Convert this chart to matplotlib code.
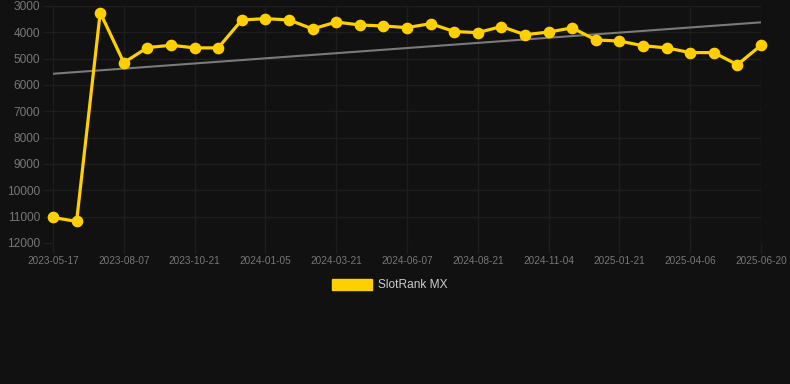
import matplotlib
matplotlib.use("Agg")
import matplotlib.pyplot as plt
import numpy as np

dates = ["2023-05-17", "2023-08-07", "2023-10-21", "2024-01-05", "2024-03-21",
         "2024-06-07", "2024-08-21", "2024-11-04", "2025-01-21", "2025-04-06",
         "2025-06-20"]
values = [11030, 11180, 3250, 5150, 4580, 4490, 4590, 4590, 3530, 3480, 3530,
          3870, 3610, 3720, 3760, 3820, 3670, 3970, 4010, 3780, 4090, 3990,
          3830, 4290, 4330, 4510, 4590, 4770, 4770, 5230, 4490]
yticks = [3000, 4000, 5000, 6000, 7000, 8000, 9000, 10000, 11000, 12000]
series_name = "SlotRank MX"

bg = "#111111"
grid_c = "#1e1e1e"
text_c = "#777777"
gold = "#FFD000"

plt.rcParams['font.family'] = ['Liberation Sans', 'DejaVu Sans']

fig = plt.figure(figsize=(7.9, 3.84), dpi=100, facecolor=bg)
ax = fig.add_axes([53/790, 1-243/384, (761-53)/790, (243-6)/384])
ax.set_facecolor(bg)

x = np.arange(len(values))
coef = np.polyfit(x, values, 1)
ax.plot(x, np.polyval(coef, x), color="#7a7a7a", lw=1.5, zorder=2)
ax.plot(x, values, color=gold, lw=2.3, marker="o", ms=7.4, mec=gold, mfc=gold,
        zorder=3, clip_on=False)

ax.set_xlim(0, len(values) - 1)
ax.set_ylim(12000, 3000)
ax.set_yticks(yticks)
ax.set_yticklabels([str(v) for v in yticks], fontsize=8.6, color=text_c)
ax.set_xticks(x[::3])
ax.set_xticklabels(dates, fontsize=7.2, color=text_c)
ax.tick_params(axis='both', length=7, width=1, color=grid_c, pad=2.5)
ax.grid(True, color=grid_c, lw=1)
for s in ax.spines.values():
    s.set_visible(False)

# legend
fig.patches.append(plt.Rectangle((332/790, 1-290/384), 40/790, 11/384,
                                 transform=fig.transFigure, color=gold))
fig.text(378/790, 1-285/384, series_name, fontsize=8.6, color="#cccccc",
         va="center", ha="left")

fig.savefig("out.png", dpi=100, facecolor=bg)
